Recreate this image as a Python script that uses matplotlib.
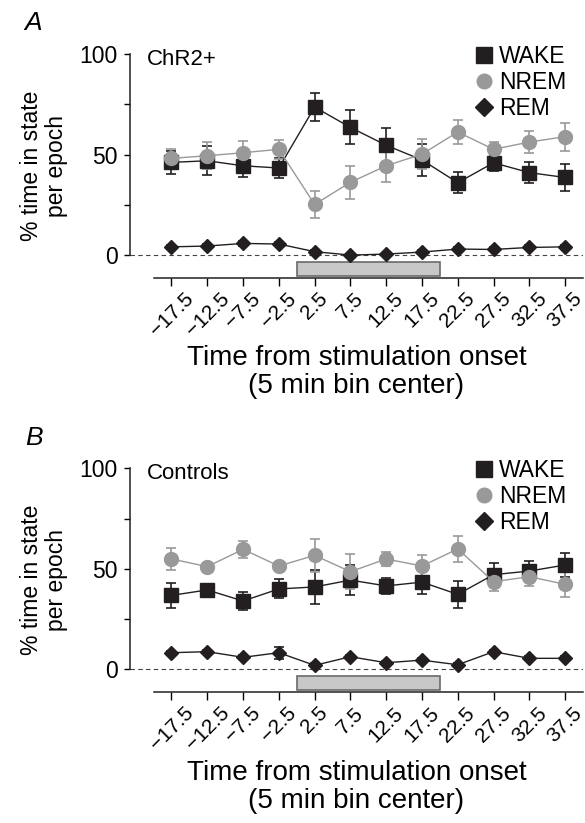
import matplotlib
matplotlib.use("Agg")
import matplotlib.pyplot as plt
from matplotlib.patches import Rectangle
from matplotlib.lines import Line2D

plt.rcParams['font.family'] = ['Liberation Sans', 'DejaVu Sans']

# 5 min bin centers (min from stimulation onset)
bins = [-17.5, -12.5, -7.5, -2.5, 2.5, 7.5, 12.5, 17.5, 22.5, 27.5, 32.5, 37.5]
bin_labels = ['\u221217.5', '\u221212.5', '\u22127.5', '\u22122.5', '2.5', '7.5',
              '12.5', '17.5', '22.5', '27.5', '32.5', '37.5']
stim_on, stim_off = 0, 20

# panel A: ChR2+
wake_a = [46.1, 46.9, 44.4, 43.3, 73.6, 63.5, 54.6, 47.3, 36.0, 45.9, 41.0, 38.6]
wake_a_err = [5.8, 7.1, 5.8, 5.0, 7.0, 8.4, 8.5, 7.8, 5.2, 4.0, 5.3, 6.6]
nrem_a = [48.1, 49.4, 50.9, 52.6, 25.2, 36.2, 44.4, 50.2, 61.2, 52.6, 56.2, 58.9]
nrem_a_err = [4.6, 6.8, 5.8, 4.8, 6.9, 8.3, 8.0, 7.5, 6.1, 3.6, 5.6, 6.9]
rem_a = [4.1, 4.5, 5.8, 5.5, 1.7, 0.0, 0.5, 1.5, 3.0, 2.8, 3.8, 4.1]
rem_a_err = [1.0, 1.0, 1.2, 1.0, 1.0, 0.5, 0.5, 1.0, 1.0, 1.0, 1.0, 1.0]

# panel B: controls
wake_b = [36.8, 39.5, 34.0, 40.0, 41.0, 44.4, 41.5, 43.4, 37.3, 47.1, 48.9, 51.9]
wake_b_err = [6.1, 2.5, 4.3, 4.7, 8.3, 7.6, 4.1, 6.0, 6.6, 5.6, 5.1, 6.2]
nrem_b = [54.9, 51.1, 59.7, 51.4, 56.7, 48.6, 54.9, 51.4, 59.9, 43.6, 46.1, 42.3]
nrem_b_err = [5.7, 2.0, 4.1, 2.0, 8.1, 8.6, 3.3, 5.5, 6.5, 4.5, 4.5, 6.3]
rem_b = [8.3, 8.8, 6.0, 8.3, 2.0, 6.3, 3.3, 4.6, 2.3, 8.8, 5.5, 5.5]
rem_b_err = [1.0, 1.0, 1.0, 3.0, 1.0, 1.0, 1.0, 1.0, 1.0, 1.0, 1.0, 1.0]

BLACK = '#231f20'
GRAY = '#999999'
YMIN = -11.4


def draw_panel(ax, wake, wake_err, nrem, nrem_err, rem, rem_err, tag):
    eb = dict(capsize=3.5, elinewidth=1.2, capthick=1.2, lw=1.0)
    ax.errorbar(bins, wake, yerr=wake_err, color=BLACK, marker='s', ms=10,
                mec=BLACK, **eb)
    ax.errorbar(bins, nrem, yerr=nrem_err, color=GRAY, marker='o', ms=10,
                mec=GRAY, **eb)
    ax.errorbar(bins, rem, yerr=rem_err, color=BLACK, marker='D', ms=7.5,
                mec=BLACK, **eb)

    ax.axhline(0, color='#444444', lw=0.8, ls=(0, (4, 3)), zorder=1)
    ax.add_patch(Rectangle((stim_on, -3.3), stim_off - stim_on, -7.1,
                           facecolor='#c8c8c8', edgecolor='#6a6a6a', lw=1.2,
                           clip_on=False))

    ax.set_xlim(-23.3, 40)
    ax.set_ylim(YMIN, 100)
    for s in ['top', 'right']:
        ax.spines[s].set_visible(False)
    ax.spines['left'].set_bounds(0, 100)
    ax.spines['bottom'].set_bounds(-20, 40)
    for s in ['left', 'bottom']:
        ax.spines[s].set_linewidth(1.1)
        ax.spines[s].set_color('#231f20')

    ax.set_yticks([0, 25, 50, 75, 100])
    ax.set_yticklabels(['0', '', '50', '', '100'])
    ax.tick_params(axis='y', length=4, width=1.0, pad=5, labelsize=16.5)
    ax.set_xticks(bins)
    ax.set_xticklabels(bin_labels, rotation=45, ha='center', va='top')
    ax.tick_params(axis='x', length=6, width=1.0, pad=2, labelsize=15)

    ax.set_ylabel('% time in state\nper epoch', fontsize=16.5, va='center',
                  linespacing=1.15)
    ax.yaxis.set_label_coords(-0.19, 0.5)
    ax.set_xlabel('Time from stimulation onset\n(5 min bin center)',
                  fontsize=20, linespacing=1.1)
    ax.xaxis.set_label_coords(0.5, -0.30)

    ax.text(0.037, 0.975, tag, transform=ax.transAxes, fontsize=16,
            ha='left', va='center')

    handles = [
        Line2D([], [], ls='none', marker='s', ms=11, color=BLACK),
        Line2D([], [], ls='none', marker='o', ms=10.5, color=GRAY),
        Line2D([], [], ls='none', marker='D', ms=9, color=BLACK),
    ]
    ax.legend(handles, ['WAKE', 'NREM', 'REM'], loc='upper left',
              bbox_to_anchor=(0.762, 1.04), frameon=False, fontsize=16.5,
              handlelength=0.8, handletextpad=0.25, labelspacing=0.12,
              borderpad=0, borderaxespad=0)


def main():
    fig = plt.figure(figsize=(5.85, 8.23), dpi=100)
    ax_a = fig.add_axes([0.2222, 0.6622, 0.7744, 0.2722])
    ax_b = fig.add_axes([0.2222, 0.1588, 0.7744, 0.2722])

    draw_panel(ax_a, wake_a, wake_a_err, nrem_a, nrem_a_err, rem_a, rem_a_err, 'ChR2+')
    draw_panel(ax_b, wake_b, wake_b_err, nrem_b, nrem_b_err, rem_b, rem_b_err, 'Controls')

    fig.text(24 / 585, 1 - 22.5 / 823, 'A', fontsize=19, style='italic',
             ha='left', va='center')
    fig.text(25 / 585, 1 - 438 / 823, 'B', fontsize=19, style='italic',
             ha='left', va='center')

    fig.savefig('out.png', dpi=100)


if __name__ == "__main__":
    main()
